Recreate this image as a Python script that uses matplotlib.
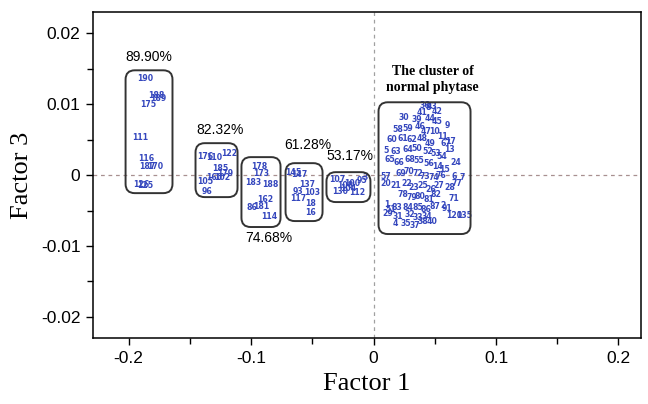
import matplotlib
matplotlib.use("Agg")
import matplotlib.pyplot as plt
from matplotlib.patches import FancyBboxPatch
from matplotlib.ticker import MultipleLocator, FuncFormatter

# sample scores (Factor 1, Factor 3) with their sample numbers
labels_a = ["190", "188", "189", "175", "111", "116", "187", "170", "126", "125"]
f1_a = [-0.1861, -0.1771, -0.1755, -0.1837, -0.1902, -0.1853, -0.1845, -0.1780, -0.1894, -0.1861]
f3_a = [0.01366, 0.01127, 0.01085, 0.01000, 0.00535, 0.00239, 0.00127, 0.00127, -0.00127, -0.00141]

labels_b = ["176", "110", "122", "185", "179", "105", "160", "102", "96"]
f1_b = [-0.1371, -0.1298, -0.1176, -0.1249, -0.1208, -0.1371, -0.1298, -0.1233, -0.1363]
f3_b = [0.00268, 0.00254, 0.00310, 0.00099, 0.00028, -0.00085, -0.00028, -0.00028, -0.00225]

labels_c = ["178", "173", "183", "188", "162", "86", "181", "114"]
f1_c = [-0.0931, -0.0914, -0.0980, -0.0841, -0.0882, -0.0996, -0.0914, -0.0849]
f3_c = [0.00127, 0.00028, -0.00099, -0.00127, -0.00338, -0.00451, -0.00437, -0.00577]

labels_d = ["145", "147", "137", "93", "103", "117", "18", "16"]
f1_d = [-0.0653, -0.0604, -0.0539, -0.0620, -0.0498, -0.0612, -0.0514, -0.0514]
f3_d = [0.00042, 0.00014, -0.00127, -0.00225, -0.00239, -0.00324, -0.00394, -0.00521]

labels_e = ["107", "108", "100", "95", "130", "112", "104", "3"]
f1_e = [-0.0294, -0.0229, -0.0171, -0.0098, -0.0269, -0.0131, -0.0204, -0.0065]
f3_e = [-0.00056, -0.00141, -0.00113, -0.00070, -0.00225, -0.00239, -0.00183, -0.00028]

labels_n = ["36", "43", "8", "30", "41", "42", "9", "39", "44", "45", "58", "59", "46", "47",
            "10", "11", "17", "67", "60", "61", "62", "48", "49", "13", "5", "63", "64", "50",
            "52", "53", "54", "24", "65", "66", "68", "55", "56", "14", "15", "57", "69", "70",
            "72", "73", "74", "76", "6", "7", "20", "21", "22", "23", "25", "26", "27", "28",
            "77", "78", "79", "80", "81", "82", "71", "1", "83", "84", "85", "86", "87", "2",
            "91", "51", "29", "31", "32", "33", "34", "120", "135", "35", "37", "38", "40", "4"]
f1_n = [0.042, 0.048, 0.045, 0.025, 0.040, 0.052, 0.060, 0.035, 0.046, 0.052, 0.020, 0.028,
        0.038, 0.043, 0.050, 0.056, 0.063, 0.059, 0.015, 0.024, 0.031, 0.040, 0.046, 0.062,
        0.010, 0.018, 0.028, 0.035, 0.044, 0.051, 0.056, 0.067, 0.013, 0.021, 0.030, 0.037,
        0.045, 0.052, 0.058, 0.010, 0.022, 0.029, 0.036, 0.042, 0.049, 0.055, 0.066, 0.072,
        0.010, 0.018, 0.027, 0.033, 0.040, 0.047, 0.053, 0.062, 0.068, 0.024, 0.031, 0.038,
        0.045, 0.051, 0.066, 0.011, 0.019, 0.028, 0.036, 0.043, 0.050, 0.057, 0.060, 0.014,
        0.012, 0.020, 0.030, 0.036, 0.044, 0.066, 0.074, 0.026, 0.034, 0.040, 0.048, 0.018]
f3_n = [0.0098, 0.0097, 0.0096, 0.0082, 0.0088, 0.0090, 0.0070, 0.0078, 0.0080, 0.0075,
        0.0065, 0.0066, 0.0068, 0.0062, 0.0062, 0.0055, 0.0048, 0.0045, 0.0050, 0.0052,
        0.0050, 0.0052, 0.0045, 0.0036, 0.0035, 0.0033, 0.0036, 0.0038, 0.0034, 0.0030,
        0.0026, 0.0018, 0.0022, 0.0018, 0.0022, 0.0020, 0.0016, 0.0012, 0.0008, -0.0002,
        0.0002, 0.0005, 0.0002, -0.0002, -0.0004, -0.0001, -0.0002, -0.0004, -0.0012, -0.0015,
        -0.0012, -0.0018, -0.0015, -0.0020, -0.0014, -0.0018, -0.0012, -0.0028, -0.0032, -0.0030,
        -0.0034, -0.0028, -0.0033, -0.0042, -0.0045, -0.0045, -0.0045, -0.0048, -0.0044, -0.0043,
        -0.0047, -0.0049, -0.0054, -0.0058, -0.0055, -0.0060, -0.0058, -0.0057, -0.0057, -0.0068,
        -0.0071, -0.0066, -0.0066, -0.0068]

# cluster outlines: (x0, x1, y0, y1) and their captions
box_x0 = [-0.2024, -0.1453, -0.1078, -0.0718, -0.0384, 0.0041]
box_x1 = [-0.1641, -0.1110, -0.0759, -0.0416, -0.0025, 0.0792]
box_y0 = [-0.00254, -0.00310, -0.00732, -0.00648, -0.00380, -0.00831]
box_y1 = [0.01479, 0.00451, 0.00254, 0.00169, 0.00042, 0.01028]
pct_text = ["89.90%", "82.32%", "74.68%", "61.28%", "53.17%"]
pct_x = [-0.1837, -0.1249, -0.0857, -0.0539, -0.0196]
pct_y = [0.01662, 0.00634, -0.00887, 0.00423, 0.00268]

blue = "#3446bd"

fig = plt.figure(figsize=(6.48, 4.04), dpi=100)
ax = fig.add_axes([0.1435, 0.163, 0.845, 0.807])
ax.set_xlim(-0.229, 0.218)
ax.set_ylim(-0.023, 0.023)

ax.axhline(0, color="#a89090", lw=0.9, dashes=(3, 3), zorder=0)
ax.axvline(0, color="#a0a0a0", lw=0.9, dashes=(3, 3), zorder=0)

groups = [(labels_a, f1_a, f3_a), (labels_b, f1_b, f3_b), (labels_c, f1_c, f3_c),
          (labels_d, f1_d, f3_d), (labels_e, f1_e, f3_e), (labels_n, f1_n, f3_n)]
for labs, xs, ys in groups:
    for s, x, y in zip(labs, xs, ys):
        ax.text(x, y, s, color=blue, fontsize=5.6, fontweight="bold",
                ha="center", va="center", family="Liberation Sans Narrow")

# keep corner rounding circular despite very different x/y scales
fig.canvas.draw()
p0 = ax.transData.transform((0, 0))
p1 = ax.transData.transform((1, 1))
aspect = (p1[0] - p0[0]) / (p1[1] - p0[1])
for x0, x1, y0, y1 in zip(box_x0, box_x1, box_y0, box_y1):
    ax.add_patch(FancyBboxPatch((x0, y0), x1 - x0, y1 - y0,
                                boxstyle="round,pad=0,rounding_size=0.0075",
                                mutation_aspect=aspect, fill=False,
                                ec="#333333", lw=1.4, zorder=3))

for s, x, y in zip(pct_text, pct_x, pct_y):
    ax.text(x, y, s, fontsize=10, ha="center", va="center", family="Liberation Sans")
ax.text(0.0482, 0.01352, "The cluster of\nnormal phytase", fontsize=10, fontweight="bold",
        ha="center", va="center", family="Liberation Serif", linespacing=1.25)

ax.xaxis.set_major_locator(MultipleLocator(0.1))
ax.xaxis.set_minor_locator(MultipleLocator(0.05))
ax.yaxis.set_major_locator(MultipleLocator(0.01))
ax.yaxis.set_minor_locator(MultipleLocator(0.005))
fmt = FuncFormatter(lambda v, _: "0" if abs(v) < 1e-9 else f"{v:g}")
ax.xaxis.set_major_formatter(fmt)
ax.yaxis.set_major_formatter(fmt)
ax.tick_params(which="major", direction="out", length=5, width=1, labelsize=12.5, pad=4)
ax.tick_params(which="minor", direction="out", length=4, width=1)
for lab in ax.get_xticklabels() + ax.get_yticklabels():
    lab.set_family("Liberation Sans")
for sp in ax.spines.values():
    sp.set_linewidth(1.1)

ax.set_xlabel("Factor 1", fontsize=19, family="Liberation Serif", labelpad=5)
ax.set_ylabel("Factor 3", fontsize=19, family="Liberation Serif", labelpad=6)

fig.savefig("out.png", dpi=100)
